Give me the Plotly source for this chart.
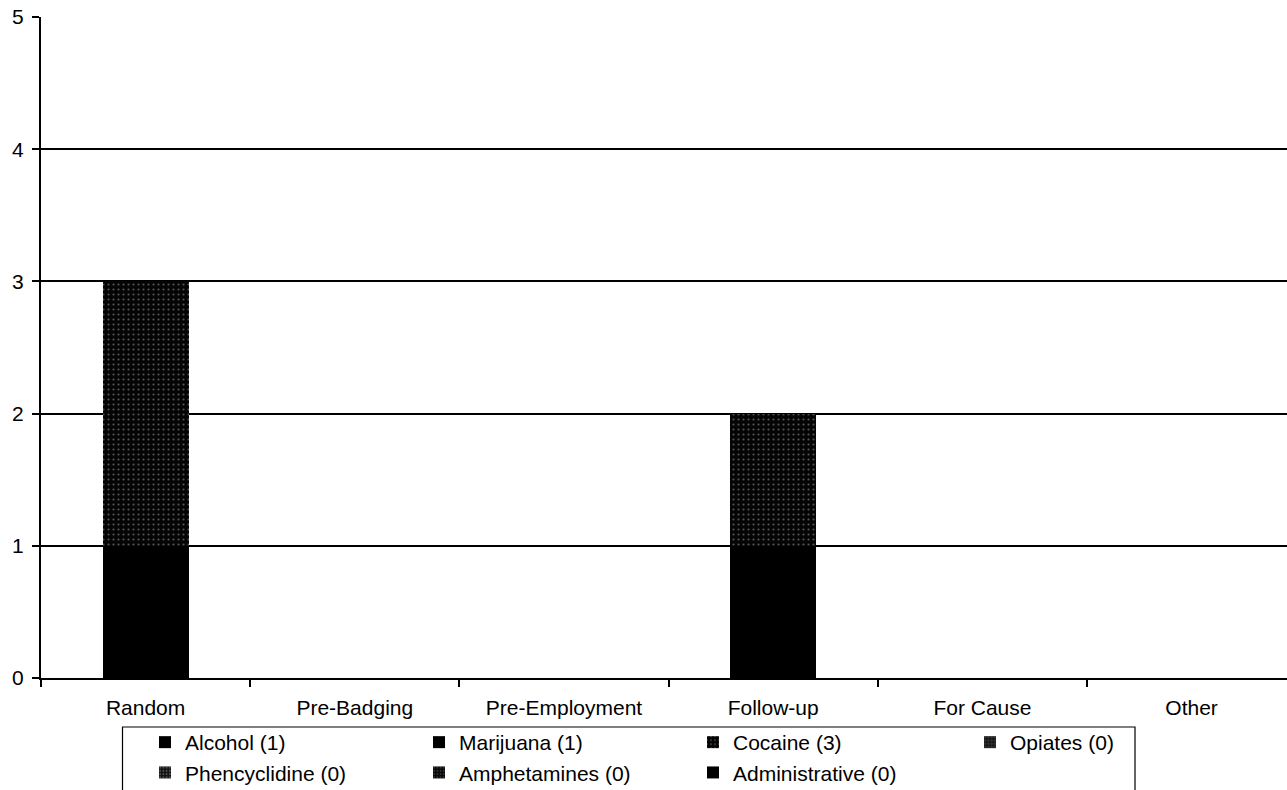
import plotly.graph_objects as go

categories = ["Random", "Pre-Badging", "Pre-Employment", "Follow-up", "For Cause", "Other"]
alcohol = [1, 0, 0, 0, 0, 0]
marijuana = [0, 0, 0, 1, 0, 0]
cocaine = [2, 0, 0, 1, 0, 0]
opiates = [0, 0, 0, 0, 0, 0]
phencyclidine = [0, 0, 0, 0, 0, 0]
amphetamines = [0, 0, 0, 0, 0, 0]
administrative = [0, 0, 0, 0, 0, 0]
y_ticks = [0, 1, 2, 3, 4, 5]

FONT = "Liberation Sans, Arial, sans-serif"

series = [
    ("Alcohol", alcohol, dict(color="#000000"), "legend"),
    ("Marijuana", marijuana, dict(color="#000000"), "legend2"),
    ("Cocaine", cocaine, dict(color="#000000",
                              pattern=dict(shape=".", fgcolor="#a8a8a8", bgcolor="#050505",
                                           size=5, solidity=0.14)), "legend3"),
    ("Opiates", opiates, dict(color="#000000",
                              pattern=dict(shape="+", fgcolor="#9a9a9a", bgcolor="#111111",
                                           size=4, solidity=0.25)), "legend4"),
    ("Phencyclidine", phencyclidine, dict(color="#000000",
                                          pattern=dict(shape=".", fgcolor="#909090", bgcolor="#111111",
                                                       size=4, solidity=0.3)), "legend"),
    ("Amphetamines", amphetamines, dict(color="#000000",
                                        pattern=dict(shape=".", fgcolor="#777777", bgcolor="#0a0a0a",
                                                     size=4, solidity=0.2)), "legend2"),
    ("Administrative", administrative, dict(color="#000000"), "legend3"),
]

fig = go.Figure()
for name, vals, marker, leg in series:
    marker = dict(marker)
    marker["line"] = dict(width=0)
    fig.add_trace(go.Bar(
        x=categories, y=vals, name=f"{name} ({sum(vals)})",
        marker=marker, legend=leg,
    ))

W, H = 1287, 790
L, R, T, B = 41, 0, 17, 112
pw, ph = W - L - R, H - T - B

def px2x(px):
    return (px - L) / pw

def py2y(py):
    return (H - B - py) / ph

leg_common = dict(
    orientation="v", xanchor="left", yanchor="top",
    font=dict(family=FONT, size=21, color="#000000"),
    bgcolor="rgba(0,0,0,0)", borderwidth=0, itemwidth=30,
    traceorder="normal",
)
leg_y = py2y(722)
cat_w = 209.2
x_max = -0.5 + pw / cat_w

fig.update_layout(
    width=W, height=H,
    margin=dict(l=L, r=R, t=T, b=B, autoexpand=False),
    paper_bgcolor="white", plot_bgcolor="white",
    barmode="stack", bargap=0.589,
    font=dict(family=FONT, size=21, color="#000000"),
    xaxis=dict(
        type="category", range=[-0.5, x_max], tickson="boundaries",
        ticks="outside", ticklen=7, tickwidth=2, tickcolor="#000000",
        showline=True, linecolor="#000000", linewidth=2,
        showgrid=False, tickfont=dict(family=FONT, size=21),
        ticklabelstandoff=10,
        fixedrange=True,
    ),
    yaxis=dict(
        range=[0, 5], tickvals=y_ticks, ticks="outside", ticklen=7,
        tickwidth=2, tickcolor="#000000",
        showline=True, linecolor="#000000", linewidth=2,
        showgrid=True, gridcolor="#000000", gridwidth=1.5,
        zeroline=False, tickfont=dict(family=FONT, size=21),
        ticklabelstandoff=4,
        fixedrange=True,
    ),
    legend=dict(leg_common, x=px2x(145), y=leg_y),
    legend2=dict(leg_common, x=px2x(419), y=leg_y),
    legend3=dict(leg_common, x=px2x(693), y=leg_y),
    legend4=dict(leg_common, x=px2x(970), y=leg_y),
    shapes=[dict(
        type="rect", xref="paper", yref="paper",
        x0=px2x(122.5), x1=px2x(1135), y0=py2y(727), y1=py2y(805),
        line=dict(color="#000000", width=1.2), fillcolor="rgba(0,0,0,0)",
        layer="above",
    )],
)

fig.write_html(
    "out.html",
    config={"displayModeBar": False},
    post_script="document.body.style.margin='0';document.body.style.padding='0';",
)
